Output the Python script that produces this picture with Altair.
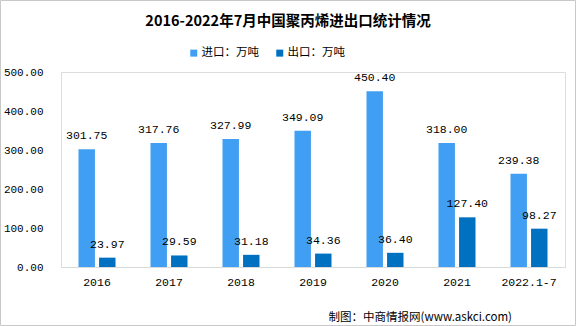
import altair as alt
import pandas as pd

years = ["2016", "2017", "2018", "2019", "2020", "2021", "2022.1-7"]
imports = [301.75, 317.76, 327.99, 349.09, 450.40, 318.00, 239.38]
exports = [23.97, 29.59, 31.18, 34.36, 36.40, 127.40, 98.27]
series = ["进口：万吨", "出口：万吨"]
colors = ["#419FF3", "#0070C0"]
title_text = "2016-2022年7月中国聚丙烯进出口统计情况"
footer_text = "制图：中商情报网(www.askci.com)"

rows = []
for y, a, b in zip(years, imports, exports):
    rows.append({"year": y, "series": series[0], "value": a})
    rows.append({"year": y, "series": series[1], "value": b})
df = pd.DataFrame(rows)

num_font = "Liberation Mono"
cjk_font = "Noto Sans CJK SC"

x_enc = alt.X("year:N", sort=years, title=None,
              scale=alt.Scale(paddingInner=0.486, paddingOuter=0.243),
              axis=alt.Axis(labelAngle=0, ticks=False, domainColor="#D9D9D9",
                            labelFont=num_font, labelFontSize=11.5, labelColor="#000",
                            labelPadding=9))
xo_enc = alt.XOffset("series:N", sort=series,
                     scale=alt.Scale(paddingInner=0.2, paddingOuter=0))
y_enc = alt.Y("value:Q", title=None,
              scale=alt.Scale(domain=[0, 500], nice=False),
              axis=alt.Axis(values=[0, 100, 200, 300, 400, 500], format=".2f",
                            grid=False, domain=False, ticks=False, labelOverlap=False,
                            labelFont=num_font, labelFontSize=11, labelColor="#000",
                            labelPadding=18))

base = alt.Chart(df)

bars = base.mark_bar().encode(
    x=x_enc, xOffset=xo_enc, y=y_enc,
    color=alt.Color("series:N", sort=series,
                    scale=alt.Scale(domain=series, range=colors),
                    legend=alt.Legend(title=None, orient="none", direction="horizontal",
                                      legendX=127, legendY=-25,
                                      symbolType="square", symbolSize=49,
                                      symbolStrokeWidth=0, labelFont=cjk_font,
                                      labelFontSize=11.5, labelColor="#000",
                                      labelOffset=2, columnPadding=15)),
)

labels = base.mark_text(baseline="alphabetic", dy=-10, font=num_font,
                        fontSize=11.5, color="#000").encode(
    x=x_enc, xOffset=xo_enc, y=y_enc,
    text=alt.Text("value:Q", format=".2f"),
)

frame = alt.Chart(pd.DataFrame({"k": [0]})).mark_rect(
    fill="transparent", stroke="#C8C8C8", strokeWidth=1).encode(
    x=alt.value(-60.5), x2=alt.value(514.5), y=alt.value(-71.5), y2=alt.value(253.5))

title = alt.Chart(pd.DataFrame({"t": [title_text]})).mark_text(
    align="center", baseline="alphabetic", font=cjk_font, fontSize=14.5,
    fontWeight="bold", color="#000").encode(
    x=alt.value(227), y=alt.value(-46), text="t:N")

footer = alt.Chart(pd.DataFrame({"t": [footer_text]})).mark_text(
    align="right", baseline="alphabetic", font=cjk_font, fontSize=11.5, color="#000").encode(
    x=alt.value(451), y=alt.value(249), text="t:N")

chart = alt.layer(frame, bars, labels, title, footer).properties(
    width=504, height=195,
    autosize=alt.AutoSizeParams(type="none"),
    padding={"left": 61, "top": 72, "right": 11, "bottom": 59},
).configure_view(stroke=None).configure(background="white")

chart.save("out.html", embed_options={"renderer": "svg", "actions": False})
